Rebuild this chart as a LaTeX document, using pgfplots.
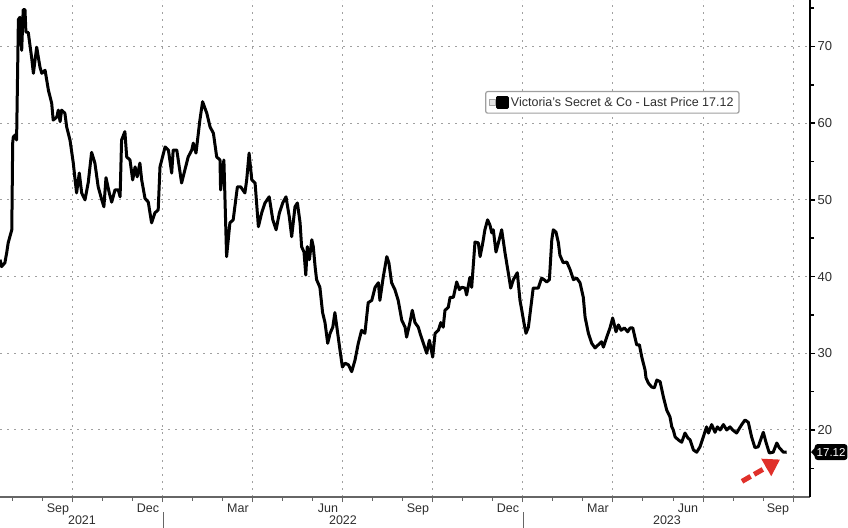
\documentclass[border=0pt]{standalone}
\usepackage{fontspec}
\setmainfont{Liberation Sans}
\usepackage{pgfplots}
\pgfplotsset{compat=1.18}
\usetikzlibrary{arrows.meta}
\definecolor{gridgray}{HTML}{A0A0A0}
\definecolor{arrowred}{HTML}{E0302A}
\definecolor{txt}{HTML}{2E2E2E}
\begin{document}
\begin{tikzpicture}
\begin{axis}[
  name=ax,
  scale only axis, width=810pt, height=497pt,
  xmin=6.567, xmax=33.567, ymin=11.26, ymax=76.06,
  axis x line*=bottom, axis y line*=right,
  x axis line style={draw=gray!80!black, line width=1.3pt, -},
  y axis line style={draw=black, line width=1.4pt, -},
  xtick={9,12,...,33},
  xticklabels={Sep,Dec,Mar,Jun,Sep,Dec,Mar,Jun,Sep},
  minor xtick={7,8,...,33},
  ytick={20,30,...,70},
  minor ytick={15,25,...,75},
  tick align=outside,
  major tick length=5pt, minor tick length=3.5pt,
  x tick style={gray!80!black, line width=1pt},
  y tick style={black, line width=1.5pt},
  grid=major,
  major grid style={gridgray, line width=1pt, dash pattern=on 2pt off 5pt},
  xticklabel style={xshift=-15pt, yshift=1.5pt, font=\fontsize{12.5}{14}\selectfont, text=txt},
  yticklabel style={xshift=-1pt, font=\fontsize{13}{15}\selectfont, text=txt},
  /pgf/number format/assume math mode=true,
  clip=false,
  legend style={at={(rel axis cs:0.756,0.794)}, anchor=center, draw=gray!75, line width=1.2pt,
    rounded corners=2pt, font=\fontsize{12.5}{14}\selectfont, text=txt, inner sep=3.5pt},
  legend image code/.code={
    \draw[sharp corners, gray!70, fill=gray!20, line width=0.5pt] (0pt,-3pt) rectangle (6pt,3pt);
    \fill[sharp corners, black] (8pt,-5pt) rectangle (18pt,5pt);
  },
]
\addplot[black, line width=3pt, line join=round] table {
t v
6.57 42.2
6.62 41.3
6.73 41.8
6.79 43.1
6.84 44.4
6.96 46.1
6.99 57.4
7.01 58.2
7.09 58.5
7.12 57.8
7.18 73.5
7.23 73.8
7.29 69.5
7.34 74.8
7.40 74.8
7.43 71.9
7.51 71.8
7.62 68.6
7.68 66.5
7.79 69.9
7.90 67.3
7.96 66.5
8.07 66.9
8.18 64.3
8.29 62.6
8.34 60.4
8.46 60.8
8.51 61.7
8.57 60.2
8.62 61.7
8.73 61.3
8.79 59.5
8.90 57.8
9.01 54.8
9.07 52.6
9.12 50.9
9.21 53.5
9.29 50.9
9.40 50.0
9.51 52.3
9.62 56.2
9.73 54.8
9.84 51.7
9.96 50.0
10.03 49.1
10.10 52.9
10.21 50.9
10.29 49.7
10.40 51.3
10.51 51.3
10.57 50.4
10.62 57.8
10.73 58.9
10.79 55.6
10.90 55.2
10.99 52.6
11.07 54.3
11.14 53.0
11.23 54.8
11.29 52.6
11.40 50.2
11.51 49.7
11.62 47.0
11.73 48.3
11.84 48.7
11.90 54.3
12.07 56.9
12.18 56.5
12.29 53.5
12.34 56.5
12.46 56.5
12.62 52.2
12.73 53.9
12.84 55.6
12.96 56.5
13.01 57.4
13.10 56.1
13.23 60.4
13.32 62.8
13.46 61.3
13.57 59.5
13.68 58.7
13.79 55.6
13.90 55.2
13.92 51.3
14.03 55.2
14.12 42.6
14.23 47.0
14.34 47.4
14.48 51.7
14.59 51.7
14.73 50.9
14.79 52.6
14.87 56.1
14.96 52.6
15.07 52.2
15.18 46.5
15.29 48.3
15.40 49.6
15.54 50.4
15.66 47.4
15.77 46.1
15.88 48.3
15.99 49.6
16.10 50.4
16.21 47.8
16.29 45.2
16.40 49.1
16.48 49.6
16.57 47.0
16.62 43.9
16.70 43.2
16.76 40.2
16.81 43.9
16.88 42.2
16.96 44.8
17.01 43.9
17.07 41.3
17.12 39.6
17.23 38.6
17.32 35.3
17.40 34.0
17.49 31.3
17.57 32.6
17.66 33.4
17.73 35.3
17.81 33.0
17.90 30.4
17.98 28.2
18.07 28.7
18.18 28.5
18.29 27.6
18.40 29.1
18.51 31.3
18.62 33.0
18.73 32.6
18.84 36.6
18.96 36.9
19.07 38.6
19.18 39.2
19.23 36.9
19.34 39.9
19.46 42.6
19.53 41.8
19.62 39.2
19.73 38.3
19.84 36.9
19.96 34.3
20.07 33.4
20.12 32.1
20.23 34.0
20.31 35.6
20.40 34.0
20.51 33.4
20.57 32.6
20.68 31.3
20.79 30.0
20.88 31.7
20.99 29.5
21.07 32.6
21.18 33.0
21.26 34.0
21.34 33.4
21.40 35.6
21.51 36.0
21.57 37.3
21.68 37.3
21.79 39.3
21.88 38.3
21.96 38.6
22.07 38.5
22.12 37.6
22.23 39.9
22.29 38.6
22.34 41.3
22.40 44.5
22.51 44.4
22.57 42.6
22.66 44.4
22.73 46.1
22.82 47.4
22.90 46.7
22.96 45.7
23.01 46.1
23.10 43.2
23.18 44.4
23.29 46.1
23.40 43.1
23.51 40.5
23.59 38.5
23.68 39.6
23.81 40.5
23.90 36.9
23.96 35.6
24.03 34.0
24.10 32.6
24.18 33.4
24.29 36.9
24.34 38.5
24.51 38.5
24.62 39.8
24.70 39.6
24.79 39.3
24.88 39.6
24.96 44.8
25.01 46.1
25.10 45.8
25.18 44.4
25.23 42.8
25.34 41.8
25.46 41.9
25.57 40.9
25.68 39.6
25.79 39.8
25.90 39.2
26.01 37.3
26.07 34.7
26.18 32.6
26.29 31.3
26.40 30.7
26.51 31.1
26.62 31.5
26.68 30.8
26.79 32.1
26.90 33.3
26.99 34.6
27.10 32.8
27.18 33.7
27.27 33.0
27.38 33.3
27.49 32.8
27.57 33.3
27.66 33.3
27.73 32.1
27.79 31.1
27.88 31.1
27.96 29.5
28.07 27.8
28.10 26.8
28.18 26.1
28.29 25.6
28.38 25.5
28.46 26.5
28.57 26.3
28.68 24.3
28.79 22.6
28.90 21.7
28.96 20.4
29.01 20.0
29.07 19.1
29.18 18.7
29.29 18.4
29.40 19.6
29.49 19.0
29.57 18.7
29.68 17.4
29.79 17.1
29.90 17.8
30.01 19.1
30.12 20.4
30.18 19.6
30.29 20.7
30.40 19.7
30.48 20.4
30.57 20.0
30.68 20.7
30.79 20.0
30.90 20.4
30.99 20.0
31.12 19.6
31.29 20.7
31.40 21.3
31.51 21.0
31.62 19.1
31.73 17.7
31.84 17.8
32.01 19.7
32.10 18.4
32.21 17.0
32.34 17.1
32.46 18.3
32.54 17.7
32.68 17.1
32.79 17.12
};
\addlegendentry{Victoria's Secret \& Co - Last Price 17.12}
% year labels and separators
\node[font=\fontsize{12.5}{14}\selectfont, text=txt] at ([yshift=-23pt]axis cs:9.3,11.26) {2021};
\node[font=\fontsize{12.5}{14}\selectfont, text=txt] at ([yshift=-23pt]axis cs:18.0,11.26) {2022};
\node[font=\fontsize{12.5}{14}\selectfont, text=txt] at ([yshift=-23pt]axis cs:28.8,11.26) {2023};
\draw[gray!80!black, line width=0.8pt] ([yshift=-15pt]axis cs:12,11.26) -- ([yshift=-31pt]axis cs:12,11.26);
\draw[gray!80!black, line width=0.8pt] ([yshift=-15pt]axis cs:24,11.26) -- ([yshift=-31pt]axis cs:24,11.26);
% last price tag
\node[fill=black, text=white, rounded corners=3pt, anchor=west, inner xsep=2pt, inner ysep=4pt,
      font=\fontsize{11.5}{13}\selectfont] (lp) at ([xshift=4.5pt]axis cs:33.567,17.12) {17.12};
\fill[black] ([xshift=2pt,yshift=6pt]lp.west) -- ([xshift=-3.5pt]lp.west) -- ([xshift=2pt,yshift=-6pt]lp.west) -- cycle;
% red arrow annotation
\draw[arrowred, line width=5pt, dash pattern=on 10pt off 4pt,
      -{Triangle[length=16pt,width=19pt]}] (axis cs:31.30,13.30) -- (axis cs:32.57,16.15);
\end{axis}
\pgfresetboundingbox
\useasboundingbox ([yshift=-30pt]ax.south west) rectangle ([xshift=848pt,yshift=497pt]ax.south west);
\end{tikzpicture}
\end{document}
